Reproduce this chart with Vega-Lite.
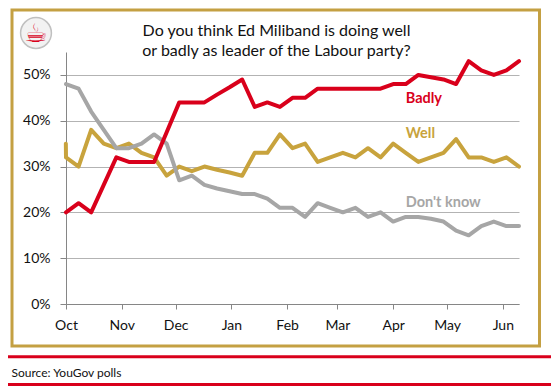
{
  "$schema": "https://vega.github.io/schema/vega-lite/v6.json",
  "width": 453,
  "height": 252,
  "autosize": {"type": "none"},
  "padding": {"left": 66, "top": 52, "right": 33, "bottom": 86},
  "background": "white",
  "config": {"font": "Lato", "view": {"stroke": null}},
  "title": {
    "text": ["Do you think Ed Miliband is doing well", "or badly as leader of the Labour party?"],
    "font": "Lato",
    "fontSize": 16,
    "fontWeight": "normal",
    "color": "#111111",
    "lineHeight": 20,
    "anchor": "middle",
    "frame": "group",
    "dx": -16,
    "offset": -50
  },
  "datasets": {
    "polls": [
      {"date": "2010-09-30T22:00:00", "Well": 35},
      {"date": "2010-10-01T00:00:00", "Badly": 20, "Well": 32, "DontKnow": 48},
      {"date": "2010-10-08T00:00:00", "Badly": 22, "Well": 30, "DontKnow": 47},
      {"date": "2010-10-15T00:00:00", "Badly": 20, "Well": 38, "DontKnow": 42},
      {"date": "2010-10-22T00:00:00", "Badly": 26, "Well": 35, "DontKnow": 38},
      {"date": "2010-10-29T00:00:00", "Badly": 32, "Well": 34, "DontKnow": 34},
      {"date": "2010-11-05T00:00:00", "Badly": 31, "Well": 35, "DontKnow": 34},
      {"date": "2010-11-12T00:00:00", "Badly": 31, "Well": 33, "DontKnow": 35},
      {"date": "2010-11-19T00:00:00", "Badly": 31, "Well": 32, "DontKnow": 37},
      {"date": "2010-11-26T00:00:00", "Badly": 37.5, "Well": 28, "DontKnow": 35},
      {"date": "2010-12-03T00:00:00", "Badly": 44, "Well": 30, "DontKnow": 27},
      {"date": "2010-12-10T00:00:00", "Badly": 44, "Well": 29, "DontKnow": 28},
      {"date": "2010-12-17T00:00:00", "Badly": 44, "Well": 30, "DontKnow": 26},
      {"date": "2010-12-24T00:00:00", "Badly": 45.7, "Well": 29.3, "DontKnow": 25.2},
      {"date": "2010-12-31T00:00:00", "Badly": 47.3, "Well": 28.7, "DontKnow": 24.6},
      {"date": "2011-01-07T00:00:00", "Badly": 49, "Well": 28, "DontKnow": 24},
      {"date": "2011-01-14T00:00:00", "Badly": 43, "Well": 33, "DontKnow": 24},
      {"date": "2011-01-21T00:00:00", "Badly": 44, "Well": 33, "DontKnow": 23},
      {"date": "2011-01-28T00:00:00", "Badly": 43, "Well": 37, "DontKnow": 21},
      {"date": "2011-02-04T00:00:00", "Badly": 45, "Well": 34, "DontKnow": 21},
      {"date": "2011-02-11T00:00:00", "Badly": 45, "Well": 35, "DontKnow": 19},
      {"date": "2011-02-18T00:00:00", "Badly": 47, "Well": 31, "DontKnow": 22},
      {"date": "2011-02-25T00:00:00", "Badly": 47, "Well": 32, "DontKnow": 21},
      {"date": "2011-03-04T00:00:00", "Badly": 47, "Well": 33, "DontKnow": 20},
      {"date": "2011-03-11T00:00:00", "Badly": 47, "Well": 32, "DontKnow": 21},
      {"date": "2011-03-18T00:00:00", "Badly": 47, "Well": 34, "DontKnow": 19},
      {"date": "2011-03-25T00:00:00", "Badly": 47, "Well": 32, "DontKnow": 20},
      {"date": "2011-04-01T00:00:00", "Badly": 48, "Well": 35, "DontKnow": 18},
      {"date": "2011-04-08T00:00:00", "Badly": 48, "Well": 33, "DontKnow": 19},
      {"date": "2011-04-15T00:00:00", "Badly": 50, "Well": 31, "DontKnow": 19},
      {"date": "2011-04-22T00:00:00", "Badly": 49.5, "Well": 32, "DontKnow": 18.6},
      {"date": "2011-04-29T00:00:00", "Badly": 49, "Well": 33, "DontKnow": 18},
      {"date": "2011-05-06T00:00:00", "Badly": 48, "Well": 36, "DontKnow": 16},
      {"date": "2011-05-13T00:00:00", "Badly": 53, "Well": 32, "DontKnow": 15},
      {"date": "2011-05-20T00:00:00", "Badly": 51, "Well": 32, "DontKnow": 17},
      {"date": "2011-05-27T00:00:00", "Badly": 50, "Well": 31, "DontKnow": 18},
      {"date": "2011-06-03T00:00:00", "Badly": 51, "Well": 32, "DontKnow": 17},
      {"date": "2011-06-10T00:00:00", "Badly": 53, "Well": 30, "DontKnow": 17}
    ],
    "labels": [
      {"date": "2011-04-08T00:00:00", "pct": 43.9, "series": "Badly", "label": "Badly"},
      {"date": "2011-04-08T00:00:00", "pct": 36.2, "series": "Well", "label": "Well"},
      {"date": "2011-04-08T00:00:00", "pct": 21.1, "series": "DontKnow", "label": "Don't know"}
    ]
  },
  "layer": [
    {
      "data": {"values": [{}]},
      "mark": {"type": "rect", "x": -54, "x2": 473.5, "y": -42, "y2": 294, "fill": null, "stroke": "#C4A042", "strokeWidth": 3},
      "encoding": {}
    },
    {
      "data": {"values": [{}]},
      "mark": {"type": "rect", "x": -58, "x2": 485, "y": 303.2, "y2": 306.2, "fill": "#D9001B"},
      "encoding": {}
    },
    {
      "data": {"values": [{}]},
      "mark": {"type": "rect", "x": -58, "x2": 485, "y": 330.9, "y2": 333.9, "fill": "#D9001B"},
      "encoding": {}
    },
    {
      "data": {"values": [{}]},
      "mark": {"type": "point", "shape": "circle", "x": -30, "y": -19, "size": 950, "filled": true, "fill": "#F2F2F2", "stroke": "#C0C0C0", "strokeWidth": 1.5, "opacity": 1},
      "encoding": {}
    },
    {
      "data": {"values": [{}]},
      "mark": {"type": "text", "text": "☕", "x": -30, "y": -18, "font": "DejaVu Sans", "fontSize": 26, "fontWeight": "bold", "color": "#D9001B", "align": "center", "baseline": "middle"},
      "encoding": {}
    },
    {
      "data": {"name": "polls"},
      "transform": [{"fold": ["Well", "DontKnow", "Badly"], "as": ["series", "pct"]}],
      "mark": {"type": "line", "strokeWidth": 4, "strokeJoin": "round", "strokeCap": "round"},
      "encoding": {
        "x": {
          "field": "date",
          "type": "temporal",
          "scale": {"domain": [{"year": 2010, "month": 10, "date": 1}, {"year": 2011, "month": 6, "date": 10}]},
          "axis": {
            "format": "%b",
            "tickCount": {"interval": "month", "step": 1},
            "grid": false,
            "labelFlush": false,
            "labelOverlap": false,
            "labelFontSize": 14,
            "labelColor": "#111111",
            "labelPadding": 9,
            "tickSize": 5,
            "tickColor": "#868686",
            "domainColor": "#868686",
            "title": "Source: YouGov polls",
            "titleX": -55,
            "titleY": 72.3,
            "titleAlign": "left",
            "titleBaseline": "alphabetic",
            "titleFontSize": 12,
            "titleFontWeight": "normal",
            "titleColor": "#111111"
          }
        },
        "y": {
          "field": "pct",
          "type": "quantitative",
          "scale": {"domain": [0, 55]},
          "axis": {
            "values": [0, 10, 20, 30, 40, 50],
            "labelExpr": "datum.value + '%'",
            "grid": true,
            "gridColor": "#B3B3B3",
            "gridWidth": 1,
            "labelFontSize": 14,
            "labelColor": "#111111",
            "labelPadding": 10,
            "tickSize": 6,
            "tickColor": "#868686",
            "domainColor": "#868686",
            "title": null
          }
        },
        "color": {
          "field": "series",
          "type": "nominal",
          "scale": {"domain": ["Badly", "Well", "DontKnow"], "range": ["#D9001B", "#C8A33D", "#A6A6A6"]},
          "legend": null
        }
      }
    },
    {
      "data": {"name": "labels"},
      "mark": {"type": "text", "align": "left", "baseline": "alphabetic", "fontSize": 14.5, "fontWeight": "bold"},
      "encoding": {
        "x": {"field": "date", "type": "temporal"},
        "y": {"field": "pct", "type": "quantitative"},
        "text": {"field": "label"},
        "color": {"field": "series", "type": "nominal"}
      }
    }
  ]
}
